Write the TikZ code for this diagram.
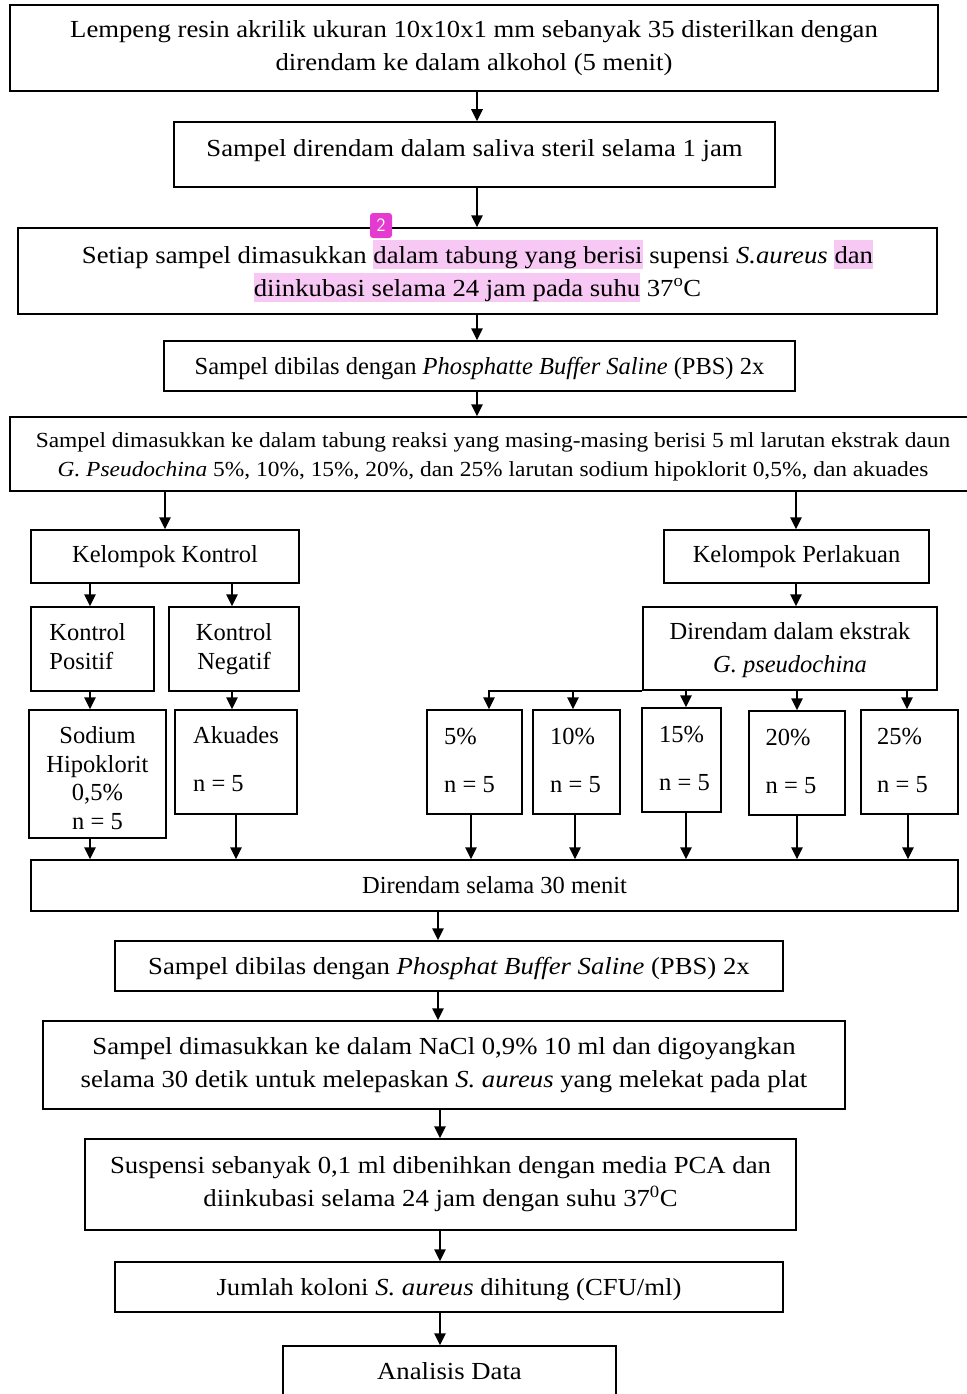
\documentclass[tikz,border=0pt]{standalone}
\usepackage{fontspec}
\setmainfont{Liberation Serif}
\newfontfamily\widefont{Liberation Serif}[FakeStretch=1.09]
\usetikzlibrary{arrows.meta}
\definecolor{hl}{RGB}{248,200,244}
\definecolor{badgecol}{RGB}{228,58,208}
\newcommand{\hlt}[1]{{\setlength{\fboxsep}{0pt}\colorbox{hl}{\rule[-6pt]{0pt}{29pt}#1}}}
\begin{document}
\begin{tikzpicture}[x=1pt,y=-1pt,
  box/.style={draw, line width=1.5pt, inner sep=0pt, align=center, font=\fontsize{24.5}{33}\selectfont},
  wbox/.style={box, font=\widefont\fontsize{24.5}{33}\selectfont},
  txt/.style={inner sep=0pt, align=center, font=\fontsize{24.5}{33}\selectfont},
  wtxt/.style={txt, font=\widefont\fontsize{24.5}{33}\selectfont},
  arr/.style={line width=1.5pt, -{Triangle[length=12pt,width=11.5pt]}},
]
\useasboundingbox (0,0) rectangle (966,1394);
\foreach \c in {477,165,796,90,232,236,489,573,686,797,907,471,575,908,438,440}{\coordinate (c\c) at (\c,0);}

\node[wbox, minimum width=928, minimum height=86] (b1) at (474,48) {Lempeng resin akrilik ukuran 10x10x1 mm sebanyak 35 disterilkan dengan\\ direndam ke dalam alkohol (5 menit)};
\node[box, minimum width=601, minimum height=65] (b2) at (474.5,154.5) {};
\node[wtxt] (t2) at ([yshift=4pt]b2.center) {Sampel direndam dalam saliva steril selama 1 jam};
\node[wbox, minimum width=919, minimum height=86] (b3) at (477.5,271) {Setiap sampel dimasukkan \hlt{dalam tabung yang berisi} supensi \textit{S.aureus} \hlt{dan}\\ \hlt{diinkubasi selama 24 jam pada suhu} 37\textsuperscript{o}C};
\node[fill=badgecol, rounded corners=3pt, text=white, font=\sffamily\fontsize{19}{19}\selectfont, minimum width=22, minimum height=25, inner sep=0pt] (badge) at (381,225.5) {2};
\node[box, minimum width=631, minimum height=50] (b4) at (479.5,366) {};
\node[txt] (t4) at ([yshift=-3pt]b4.center) {Sampel dibilas dengan \textit{Phosphatte Buffer Saline} (PBS) 2x};
\node[box, minimum width=960, minimum height=74] (b5) at (490,454) {};
\node[wtxt, font=\widefont\fontsize{21.5}{29}\selectfont] (t5) at ([xshift=3pt,yshift=-3pt]b5.center) {Sampel dimasukkan ke dalam tabung reaksi yang masing-masing berisi 5 ml larutan ekstrak daun\\ \textit{G. Pseudochina} 5\%, 10\%, 15\%, 20\%, dan 25\% larutan sodium hipoklorit 0,5\%, dan akuades};

\node[box, minimum width=268, minimum height=53] (kk) at (165,556.5) {Kelompok Kontrol};
\node[box, minimum width=265, minimum height=53] (kp) at (796.5,556.5) {Kelompok Perlakuan};
\node[box, minimum width=123, minimum height=84] (kpos) at (92.5,649) {};
\node[txt, align=left, font=\fontsize{24.5}{29}\selectfont] at ([xshift=-5pt,yshift=2pt]kpos.center) {Kontrol\\Positif};
\node[box, minimum width=130, minimum height=84, font=\fontsize{24.5}{29}\selectfont] (kneg) at (234,649) {Kontrol\\Negatif};
\node[box, minimum width=137, minimum height=128] (sod) at (97.5,774) {};
\node[txt, font=\fontsize{24.5}{28.5}\selectfont] at ([yshift=-4pt]sod.center) {Sodium\\Hipoklorit\\0,5\%\\n = 5};
\node[box, minimum width=122, minimum height=104] (aku) at (236,762) {};
\node[txt, align=left] at ([yshift=3pt]aku.center) {Akuades\\[15pt]n = 5};
\node[box, minimum width=294, minimum height=83] (ek) at (790,648.5) {};
\node[txt] at ([yshift=-1.5pt]ek.center) {Direndam dalam ekstrak\\\textit{G. pseudochina}};
\node[box, minimum width=95, minimum height=104] (p5) at (474.5,762) {};
\node[txt, align=left] at ([xshift=-5pt,yshift=2pt]p5.center) {5\%\\[15pt]n = 5};
\node[box, minimum width=87, minimum height=104] (p10) at (576.5,762) {};
\node[txt, align=left] at ([xshift=-1pt,yshift=2pt]p10.center) {10\%\\[15pt]n = 5};
\node[box, minimum width=79, minimum height=104] (p15) at (681.5,760) {};
\node[txt, align=left] at ([xshift=3pt,yshift=2pt]p15.center) {15\%\\[15pt]n = 5};
\node[box, minimum width=96, minimum height=104] (p20) at (797,763) {};
\node[txt, align=left] at ([xshift=-6pt,yshift=2pt]p20.center) {20\%\\[15pt]n = 5};
\node[box, minimum width=97, minimum height=104] (p25) at (909.5,762) {};
\node[txt, align=left] at ([xshift=-7pt,yshift=2pt]p25.center) {25\%\\[15pt]n = 5};

\node[box, minimum width=927, minimum height=51] (d30) at (494.5,885.5) {Direndam selama 30 menit};
\node[box, minimum width=668, minimum height=50] (pbs) at (449,966) {};
\node[wtxt] at ([yshift=-3pt]pbs.center) {Sampel dibilas dengan \textit{Phosphat Buffer Saline} (PBS) 2x};
\node[wbox, minimum width=802, minimum height=88] (nacl) at (444,1065) {Sampel dimasukkan ke dalam NaCl 0,9\% 10 ml dan digoyangkan\\selama 30 detik untuk melepaskan \textit{S. aureus} yang melekat pada plat};
\node[wbox, minimum width=711, minimum height=91] (susp) at (440.5,1184.5) {Suspensi sebanyak 0,1 ml dibenihkan dengan media PCA dan\\diinkubasi selama 24 jam dengan suhu 37\textsuperscript{0}C};
\node[box, minimum width=668, minimum height=50] (jml) at (449,1287) {};
\node[wtxt] at ([yshift=-3pt]jml.center) {Jumlah koloni \textit{S. aureus} dihitung (CFU/ml)};
\node[box, minimum width=333, minimum height=54] (ana) at (449.5,1373) {};
\node[wtxt] at ([yshift=2pt]ana.center) {Analisis Data};

\draw[arr] (b1.south -| c477) -- (b2.north -| c477);
\draw[arr] (b2.south -| c477) -- (b3.north -| c477);
\draw[arr] (b3.south -| c477) -- (b4.north -| c477);
\draw[arr] (b4.south -| c477) -- (b5.north -| c477);
\draw[arr] (b5.south -| c165) -- (kk.north -| c165);
\draw[arr] (b5.south -| c796) -- (kp.north -| c796);
\draw[arr] (kk.south -| c90) -- (kpos.north -| c90);
\draw[arr] (kk.south -| c232) -- (kneg.north -| c232);
\draw[arr] (kpos.south -| c90) -- (sod.north -| c90);
\draw[arr] (kneg.south -| c232) -- (aku.north -| c232);
\draw[arr] (kp.south -| c796) -- (ek.north -| c796);
\draw[arr] (ek.south west) -| (p5.north -| c489);
\draw[arr] (ek.south -| c573) -- (p10.north -| c573);
\draw[arr] (ek.south -| c686) -- (p15.north -| c686);
\draw[arr] (ek.south -| c797) -- (p20.north -| c797);
\draw[arr] (ek.south -| c907) -- (p25.north -| c907);
\draw[arr] (sod.south -| c90) -- (d30.north -| c90);
\draw[arr] (aku.south -| c236) -- (d30.north -| c236);
\draw[arr] (p5.south -| c471) -- (d30.north -| c471);
\draw[arr] (p10.south -| c575) -- (d30.north -| c575);
\draw[arr] (p15.south -| c686) -- (d30.north -| c686);
\draw[arr] (p20.south -| c797) -- (d30.north -| c797);
\draw[arr] (p25.south -| c908) -- (d30.north -| c908);
\draw[arr] (d30.south -| c438) -- (pbs.north -| c438);
\draw[arr] (pbs.south -| c438) -- (nacl.north -| c438);
\draw[arr] (nacl.south -| c440) -- (susp.north -| c440);
\draw[arr] (susp.south -| c440) -- (jml.north -| c440);
\draw[arr] (jml.south -| c440) -- (ana.north -| c440);
\end{tikzpicture}
\end{document}
